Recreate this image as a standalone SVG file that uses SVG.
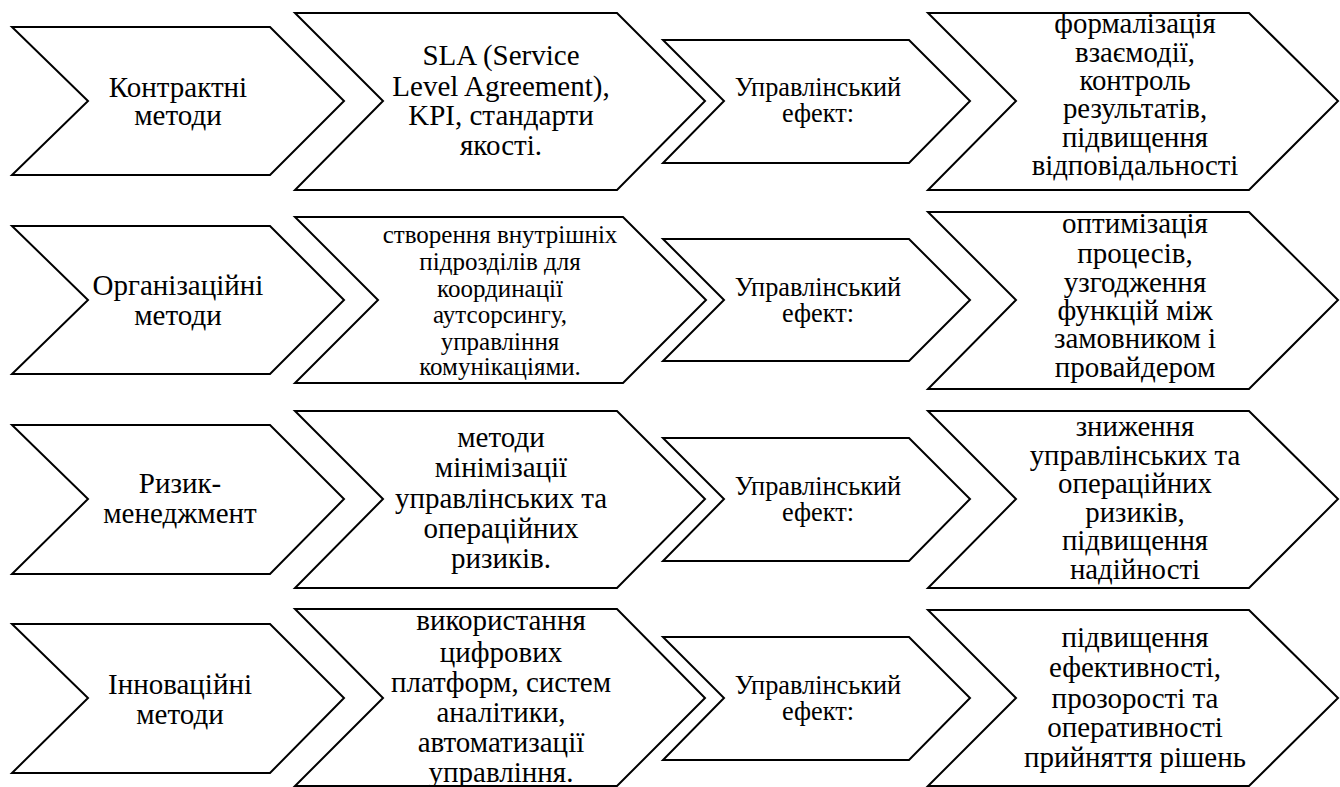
<svg xmlns="http://www.w3.org/2000/svg" width="1340" height="787" viewBox="0 0 1340 787">
<style>
.ch{fill:#fff;stroke:#000;stroke-width:2;stroke-linejoin:miter}
text{font-family:'Liberation Serif','Times New Roman',serif;fill:#000;text-anchor:middle}
.f29{font-size:29px}
.f28{font-size:28.8px}
.f26{font-size:26.3px}
.f25{font-size:25px}
</style>
<rect width="1340" height="787" fill="#fff"/>
<g id="connectors"/>

<!-- Row 1 -->
<g id="r1c1">
<polygon class="ch" points="12,27 270,27 344,101 270,175 12,175 88,101"/>
<text class="f29"><tspan x="178" y="97">Контрактні</tspan><tspan x="178" y="125">методи</tspan></text>
</g>
<g id="r1c2">
<polygon class="ch" points="295,13 617,13 705,101 617,190 295,190 383,101"/>
<text class="f29"><tspan x="501" y="65">SLA (Service</tspan><tspan x="501" y="96">Level Agreement),</tspan><tspan x="501" y="125">KPI, стандарти</tspan><tspan x="501" y="155">якості.</tspan></text>
</g>
<g id="r1c3">
<polygon class="ch" points="663,40 909,40 970,101 909,163 663,163 724,101"/>
<text class="f26"><tspan x="818" y="96">Управлінський</tspan><tspan x="818" y="122">ефект:</tspan></text>
</g>
<g id="r1c4">
<polygon class="ch" points="928,13 1249,13 1338,101 1249,190 928,190 1016,101"/>
<text class="f28"><tspan x="1135" y="33">формалізація</tspan><tspan x="1135" y="62">взаємодії,</tspan><tspan x="1135" y="90">контроль</tspan><tspan x="1135" y="118">результатів,</tspan><tspan x="1135" y="147">підвищення</tspan><tspan x="1135" y="175">відповідальності</tspan></text>
</g>

<!-- Row 2 -->
<g id="r2c1">
<polygon class="ch" points="12,226 270,226 344,300 270,374 12,374 88,300"/>
<text class="f29"><tspan x="178" y="295">Організаційні</tspan><tspan x="178" y="325">методи</tspan></text>
</g>
<g id="r2c2">
<polygon class="ch" points="295,217 623,217 706,300 623,383 295,383 378,300"/>
<text class="f25"><tspan x="500" y="243">створення внутрішніх</tspan><tspan x="500" y="270">підрозділів для</tspan><tspan x="500" y="297">координації</tspan><tspan x="500" y="323">аутсорсингу,</tspan><tspan x="500" y="350">управління</tspan><tspan x="500" y="375">комунікаціями.</tspan></text>
</g>
<g id="r2c3">
<polygon class="ch" points="663,239 909,239 970,300 909,361 663,361 724,300"/>
<text class="f26"><tspan x="818" y="296">Управлінський</tspan><tspan x="818" y="322">ефект:</tspan></text>
</g>
<g id="r2c4">
<polygon class="ch" points="928,212 1249,212 1338,300 1249,389 928,389 1016,300"/>
<text class="f29"><tspan x="1135" y="233">оптимізація</tspan><tspan x="1135" y="263">процесів,</tspan><tspan x="1135" y="292">узгодження</tspan><tspan x="1135" y="320">функцій між</tspan><tspan x="1135" y="348">замовником і</tspan><tspan x="1135" y="377">провайдером</tspan></text>
</g>

<!-- Row 3 -->
<g id="r3c1">
<polygon class="ch" points="12,425 270,425 344,499 270,574 12,574 88,499"/>
<text class="f29"><tspan x="180" y="493">Ризик-</tspan><tspan x="180" y="523">менеджмент</tspan></text>
</g>
<g id="r3c2">
<polygon class="ch" points="295,411 617,411 705,499 617,588 295,588 383,499"/>
<text class="f29"><tspan x="501" y="447">методи</tspan><tspan x="501" y="477">мінімізації</tspan><tspan x="501" y="508">управлінських та</tspan><tspan x="501" y="538">операційних</tspan><tspan x="501" y="568">ризиків.</tspan></text>
</g>
<g id="r3c3">
<polygon class="ch" points="663,438 909,438 970,499 909,561 663,561 724,499"/>
<text class="f26"><tspan x="818" y="495">Управлінський</tspan><tspan x="818" y="521">ефект:</tspan></text>
</g>
<g id="r3c4">
<polygon class="ch" points="928,411 1249,411 1338,499 1249,588 928,588 1016,499"/>
<text class="f28"><tspan x="1135" y="436">зниження</tspan><tspan x="1135" y="465">управлінських та</tspan><tspan x="1135" y="493">операційних</tspan><tspan x="1135" y="522">ризиків,</tspan><tspan x="1135" y="550">підвищення</tspan><tspan x="1135" y="579">надійності</tspan></text>
</g>

<!-- Row 4 -->
<g id="r4c1">
<polygon class="ch" points="12,624 270,624 344,698 270,773 12,773 88,698"/>
<text class="f29"><tspan x="180" y="694">Інноваційні</tspan><tspan x="180" y="724">методи</tspan></text>
</g>
<g id="r4c2">
<polygon class="ch" points="295,609 617,609 705,698 617,786 295,786 383,698"/>
<text class="f29"><tspan x="501" y="630">використання</tspan><tspan x="501" y="662">цифрових</tspan><tspan x="501" y="692">платформ, систем</tspan><tspan x="501" y="722">аналітики,</tspan><tspan x="501" y="752">автоматизації</tspan><tspan x="501" y="782">управління.</tspan></text>
</g>
<g id="r4c3">
<polygon class="ch" points="663,637 909,637 970,698 909,760 663,760 724,698"/>
<text class="f26"><tspan x="818" y="694">Управлінський</tspan><tspan x="818" y="720">ефект:</tspan></text>
</g>
<g id="r4c4">
<polygon class="ch" points="928,610 1249,610 1338,698 1249,786 928,786 1016,698"/>
<text class="f29"><tspan x="1135" y="647">підвищення</tspan><tspan x="1135" y="677">ефективності,</tspan><tspan x="1135" y="708">прозорості та</tspan><tspan x="1135" y="737">оперативності</tspan><tspan x="1135" y="767">прийняття рішень</tspan></text>
</g>
</svg>
